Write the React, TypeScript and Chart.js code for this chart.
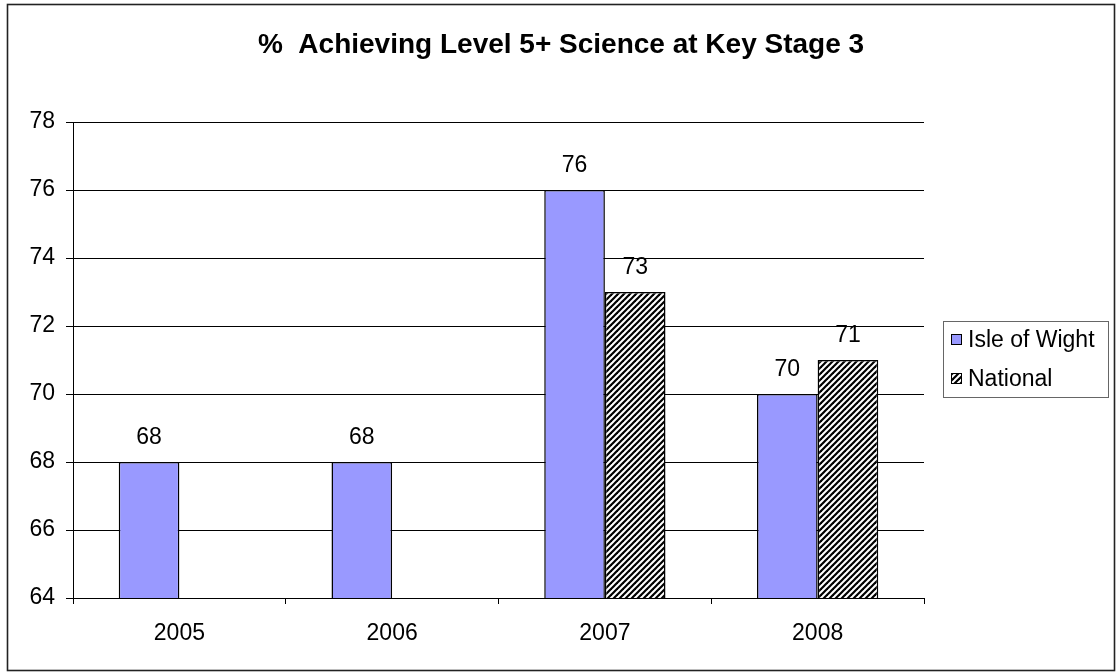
import React, { useEffect, useRef } from "react";
import { Chart, registerables } from "chart.js";

Chart.register(...registerables);

const categories = ["2005", "2006", "2007", "2008"];
const isleOfWight = [68, 68, 76, 70];
const national: (number | null)[] = [null, null, 73, 71];
const seriesNames = ["Isle of Wight", "National"];
const titleText = "%  Achieving Level 5+ Science at Key Stage 3";
const yMin = 64;
const yMax = 78;
const yStep = 2;

const FONT = "'Liberation Sans', Arial, sans-serif";

function makeHatch(): CanvasPattern | string {
  const s = 6;
  const c = document.createElement("canvas");
  c.width = s;
  c.height = s;
  const g = c.getContext("2d");
  if (!g) return "#555";
  g.fillStyle = "#ffffff";
  g.fillRect(0, 0, s, s);
  g.strokeStyle = "#000000";
  g.lineWidth = 2.2;
  g.lineCap = "square";
  for (let k = -1; k <= 1; k++) {
    g.beginPath();
    g.moveTo(k * s, s);
    g.lineTo(k * s + s, 0);
    g.stroke();
  }
  const p = g.createPattern(c, "repeat");
  return p || "#555";
}

export default function App() {
  const ref = useRef<HTMLCanvasElement | null>(null);

  useEffect(() => {
    if (!ref.current) return;
    const hatch = makeHatch();
    const isleColor = "#9999FF";

    const decor = {
      id: "decor",
      afterDatasetsDraw(chart: any) {
        const ctx = chart.ctx as CanvasRenderingContext2D;
        ctx.save();
        ctx.fillStyle = "#000";
        ctx.font = `23px ${FONT}`;
        ctx.textAlign = "center";
        ctx.textBaseline = "alphabetic";
        chart.data.datasets.forEach((ds: any, i: number) => {
          const meta = chart.getDatasetMeta(i);
          meta.data.forEach((el: any, j: number) => {
            const v = ds.data[j];
            if (v === null || v === undefined) return;
            ctx.fillText(String(v), el.x, el.y - 18);
          });
        });
        ctx.restore();
      },
      afterDraw(chart: any) {
        const ctx = chart.ctx as CanvasRenderingContext2D;
        ctx.save();
        // outer border
        ctx.strokeStyle = "#222";
        ctx.lineWidth = 1.6;
        ctx.strokeRect(7.5, 4.5, 1107, 666);
        // title
        ctx.fillStyle = "#000";
        ctx.font = `bold 28px ${FONT}`;
        ctx.textAlign = "center";
        ctx.textBaseline = "alphabetic";
        ctx.fillText(titleText, 561, 53);
        // legend
        ctx.strokeStyle = "#666";
        ctx.lineWidth = 1;
        ctx.strokeRect(943.5, 321.5, 165, 76);
        const fills: any[] = [isleColor, hatch];
        const baselines = [347, 386];
        ctx.font = `23px ${FONT}`;
        ctx.textAlign = "left";
        seriesNames.forEach((name, i) => {
          const by = baselines[i] - 13;
          ctx.fillStyle = fills[i];
          ctx.fillRect(951, by, 11, 11);
          ctx.strokeStyle = "#000";
          ctx.lineWidth = 1;
          ctx.strokeRect(951.5, by + 0.5, 10, 10);
          ctx.fillStyle = "#000";
          ctx.fillText(name, 968, baselines[i]);
        });
        ctx.restore();
      },
    };

    const chart = new Chart(ref.current, {
      type: "bar",
      data: {
        labels: categories,
        datasets: [
          {
            label: seriesNames[0],
            data: isleOfWight,
            backgroundColor: isleColor,
            borderColor: "#000",
            borderWidth: 1.5,
            categoryPercentage: 0.57,
            barPercentage: 1,
          },
          {
            label: seriesNames[1],
            data: national as any,
            backgroundColor: hatch as any,
            borderColor: "#000",
            borderWidth: 1.5,
            categoryPercentage: 0.57,
            barPercentage: 1,
          },
        ],
      },
      options: {
        responsive: false,
        animation: false,
        layout: { padding: { left: 0, top: 122, right: 196, bottom: 0 } },
        plugins: {
          legend: { display: false },
          title: { display: false },
          tooltip: { enabled: false },
        },
        scales: {
          x: {
            offset: true,
            grid: {
              display: true,
              drawOnChartArea: false,
              drawTicks: true,
              tickLength: 6,
              color: "#000",
              offset: true,
            },
            border: { color: "#000", width: 1 },
            ticks: {
              color: "#000",
              font: { family: FONT, size: 23 },
              padding: 16,
            },
            afterFit: (scale: any) => {
              scale.height = 74;
            },
          },
          y: {
            min: yMin,
            max: yMax,
            grid: {
              color: "#000",
              lineWidth: 1,
              tickLength: 7,
            },
            border: { color: "#000", width: 1 },
            ticks: {
              stepSize: yStep,
              color: "#000",
              font: { family: FONT, size: 23 },
              padding: 11,
            },
            afterFit: (scale: any) => {
              scale.width = 73;
            },
          },
        },
      },
      plugins: [decor],
    });
    return () => chart.destroy();
  }, []);

  return (
    <div style={{ position: "absolute", left: 0, top: 0, width: 1120, height: 672, background: "#fff" }}>
      <canvas ref={ref} width={1120} height={672} style={{ width: 1120, height: 672, display: "block" }} />
    </div>
  );
}
